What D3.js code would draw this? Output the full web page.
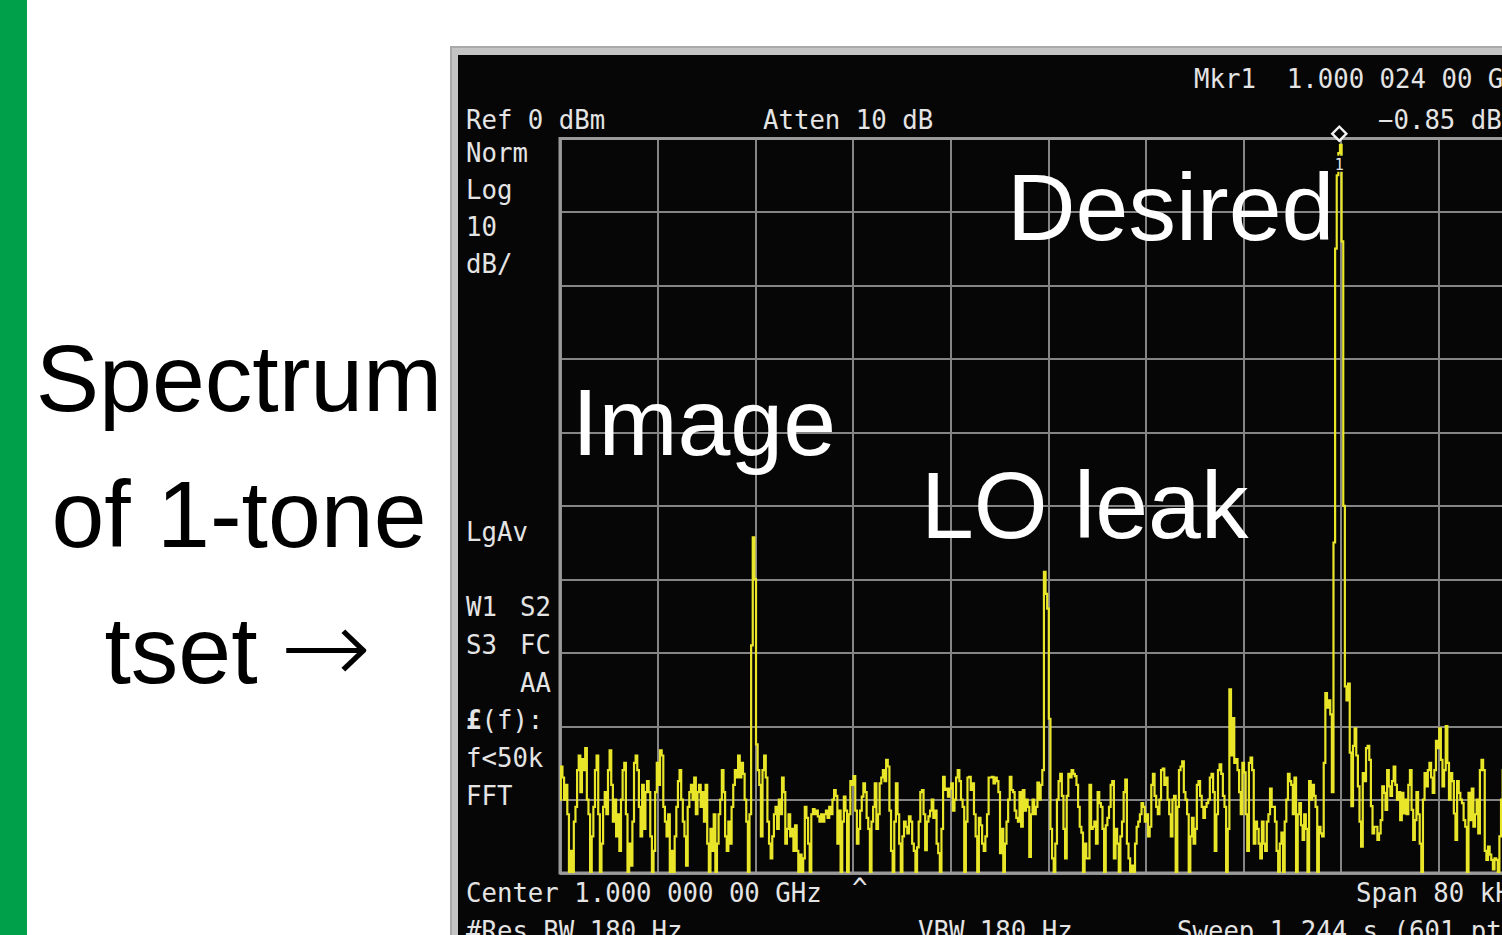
<!DOCTYPE html>
<html>
<head>
<meta charset="utf-8">
<script src="https://cdn.jsdelivr.net/npm/d3@7"></script>
<style>
  html, body { margin: 0; padding: 0; background: #ffffff; overflow: hidden; }
  svg { display: block; }
</style>
</head>
<body>
<svg id="chart" width="1502" height="935"></svg>
<script>
// ---- Analyzer settings ----
const centerGHz = "1.000 000 00";
const spanKHz = 80;
const refLevelDbm = 0;
const dbPerDiv = 10;
const numDivs = 10;
const attenDb = 10;
const rbwHz = 180;
const vbwHz = 180;
const sweepSec = 1.244;

// ---- Trace: 601 swept points, dBm ----
const traceDbm = [
  -90, -85.5, -87, -90, -88, -92, -100, -97, -100, -93,
  -91, -86, -84, -89, -84.5, -86, -83, -90, -92, -100,
  -95, -91, -86, -84, -92, -100, -96, -91, -89, -92,
  -86, -83.3, -88, -93, -90, -95, -92, -97, -90, -86,
  -85, -92, -100, -96, -99, -93, -85, -84, -86, -91,
  -95, -88, -94, -89, -87.5, -89, -95, -100, -97, -89,
  -85, -88, -83.3, -84, -91, -93, -95, -92, -100, -97,
  -100, -95, -91, -87.5, -86, -90, -93, -95, -99, -91,
  -89, -88, -90, -87, -92, -89, -88, -91, -89, -93,
  -88, -96, -100, -94, -97, -92, -100, -96, -92, -90,
  -86, -89, -95, -97, -93, -96, -91, -88, -86, -87,
  -84, -87, -85, -86.5, -90, -93, -100, -92, -69, -54.3,
  -60, -82.5, -86, -88, -95, -86, -84, -87, -93, -96,
  -98, -95, -92, -91, -94, -90, -92, -87, -89, -96,
  -94, -92, -95, -94, -97, -93.5, -97, -100, -97.5, -100,
  -98, -91, -92.5, -96, -100, -92, -91.3, -92, -91.5, -92.3,
  -93, -92, -93, -92, -91.5, -92.5, -91, -92, -90, -88.7,
  -89.5, -96, -91.5, -100, -93, -89.6, -91.5, -100, -92, -87.5,
  -88, -86.8, -91.5, -96, -94, -91.5, -89.6, -87.8, -89, -92.5,
  -94, -100, -93, -91, -87.8, -94, -92, -87.8, -87, -86,
  -87.5, -84.6, -85.5, -91.5, -97, -100, -93, -87.8, -92, -96,
  -100, -95, -93, -93.7, -94.6, -92.3, -93, -96, -97, -100,
  -96.5, -93, -89, -88.7, -92, -96.9, -93, -92.3, -91.5, -90,
  -92.5, -91.5, -96, -97.3, -100, -94, -86.9, -88.7, -88.5, -89.6,
  -88.5, -87.8, -91.5, -90, -87, -86, -87.5, -90, -91, -100,
  -93, -87, -86.9, -88.7, -87.8, -92, -95, -100, -92.5, -93.5,
  -96, -97, -95, -92, -87, -87, -86.9, -87.8, -87, -87.5,
  -89, -97.3, -94, -100, -96, -93, -90, -86.9, -88.7, -89,
  -91.5, -92.5, -93, -89, -93.7, -88.7, -91.5, -90, -91, -97.8,
  -92, -90, -92, -91, -87.7, -90, -88, -86, -59, -62,
  -64, -79, -94, -98, -100, -96, -90, -87.5, -86.5, -89.5,
  -94, -98, -89.5, -86.5, -87, -86, -86.5, -86.8, -88, -91,
  -93.7, -94.5, -100, -96, -98, -98, -88, -94, -93.7, -93,
  -96, -89, -90.5, -91, -94, -100, -93.5, -92.5, -91, -88,
  -87.5, -98, -94, -96, -100, -95, -93, -89, -87.3, -96,
  -98, -100, -99, -100, -96, -93.7, -93, -92, -90.5, -91,
  -93, -92, -95, -93.7, -88, -86.5, -89.5, -91, -92, -90,
  -86, -85.8, -88, -87, -90, -92, -95, -90, -89.5, -100,
  -91, -86, -85.5, -84.8, -89, -90, -92, -100, -95, -92.5,
  -96, -94, -88, -87.5, -89.5, -91, -92.5, -91, -90.5, -90,
  -87, -86.5, -89, -97, -92, -86, -85.2, -86.5, -89.5, -91,
  -100, -94, -75, -84, -78.9, -85, -84.5, -86, -89, -92,
  -85, -86.3, -92, -97, -85, -84.3, -86, -96, -93, -94,
  -96, -98, -93, -96, -97, -93, -92, -88.5, -91, -91,
  -93, -97, -100, -96, -94.5, -100, -93, -90, -86.5, -87.5,
  -88, -92, -87, -100, -92, -90.5, -93.5, -95.5, -92, -94,
  -100, -87.5, -90, -88, -89.5, -91, -100, -93.7, -94.6, -95,
  -85, -75.5, -77.5, -76.5, -78.4, -89, -55, -15, -5, -2,
  -0.85, -14, -50, -74.6, -76.5, -74.2, -83.6, -90.9, -82.7, -80.3,
  -84, -88.2, -93, -96.4, -86.4, -87.5, -83, -82.7, -84.6, -90.9,
  -94.6, -93.7, -93.7, -95.5, -94.6, -92.8, -88.2, -89.1, -91.4, -86,
  -88.2, -89.5, -87.5, -85.5, -88, -90, -89, -92.8, -89.1, -91.9,
  -90, -92, -88, -86, -91.4, -95.5, -92.8, -89, -92, -96,
  -100, -90, -86.4, -88.2, -86, -85, -87, -89.1, -86, -82,
  -83, -80.3, -84.6, -88.2, -86, -80, -85, -90, -86.4, -87.5,
  -91.9, -95.5, -87.5, -89.1, -90, -90.5, -92.8, -93.7, -100, -89.1,
  -92.8, -88.5, -93.7, -92, -90, -94.6, -86, -84.6, -86, -97,
  -98.2, -96.4, -97.5, -98.2, -99.5, -98, -98.2, -100, -95, -90,
  -86, -88, -91, -94, -89, -87, -92, -96, -90, -88,
  -93, -89, -87, -91, -95, -100, -92, -88, -90, -93, -89
];

// Marker 1 sits on the desired tone
const markerIndex = 480;
const markerFreq = "1.000 024 00";

// Annotation text
const signalNames = ["Image", "LO leak", "Desired"];
const captionLines = ["Spectrum", "of 1-tone", "tset"];
const captionArrow = "\u2192";
const sideNotes = ["Norm", "Log", "10", "dB/", "LgAv", "W1", "S3", "\u00a3(f):", "f<50k", "FFT"];
const sideNotes2 = ["S2", "FC", "AA"];

// ---- Layout ----
const W = 1502, H = 935;
const plot = { left: 560, right: 1536, top: 138.5, bottom: 873 };
const monoFont = "'DejaVu Sans Mono', 'Liberation Mono', monospace";
const sansFont = "'Liberation Sans', Arial, Helvetica, sans-serif";
const textGray = "#e4e4e4";
const traceColor = "#e9e629";

const svg = d3.select("#chart");

// Page: green side bar and caption
svg.append("rect").attr("x", 0).attr("y", 0).attr("width", W).attr("height", H).attr("fill", "#ffffff");
svg.append("rect").attr("x", 0).attr("y", 0).attr("width", 27).attr("height", H).attr("fill", "#00a04a");

const captionY = [411, 547, 683];
const captionX = [239, 239, 181];
svg.append("g").selectAll("text").data(captionLines).join("text")
  .attr("x", (d, i) => captionX[i]).attr("y", (d, i) => captionY[i])
  .attr("text-anchor", "middle")
  .attr("font-family", sansFont).attr("font-size", 95)
  .attr("fill", "#000000")
  .text(d => d);
// long thin arrow after "tset"
svg.append("text")
  .attr("x", 280).attr("y", 683)
  .attr("font-family", "'DejaVu Sans', sans-serif").attr("font-weight", 200)
  .attr("font-size", 104)
  .attr("fill", "#000000")
  .attr("transform", "translate(280,683) scale(1.05,1) translate(-280,-683)")
  .text(captionArrow);

// Analyzer screen
svg.append("rect").attr("x", 450).attr("y", 46).attr("width", 1100).attr("height", 950).attr("fill", "#a9a9a9");
svg.append("rect").attr("x", 452).attr("y", 48).attr("width", 1100).attr("height", 950).attr("fill", "#c4c4c4");
svg.append("rect").attr("x", 458).attr("y", 55).attr("width", 1100).attr("height", 950).attr("fill", "#060606");

// Scales
const halfSpan = spanKHz / 2;
const x = d3.scaleLinear().domain([-halfSpan, halfSpan]).range([plot.left, plot.right]);
const y = d3.scaleLinear().domain([refLevelDbm - dbPerDiv * numDivs, refLevelDbm]).range([plot.bottom, plot.top]);
const freqAt = i => -halfSpan + i * spanKHz / (traceDbm.length - 1);

// Graticule
const xTicks = d3.range(numDivs + 1).map(k => -halfSpan + k * spanKHz / numDivs);
const yTicks = d3.range(numDivs + 1).map(k => refLevelDbm - k * dbPerDiv);

const gx = svg.append("g")
  .attr("transform", `translate(0,${plot.bottom})`)
  .call(d3.axisBottom(x).tickValues(xTicks).tickSize(-(plot.bottom - plot.top)).tickFormat(""));
const gy = svg.append("g")
  .attr("transform", `translate(${plot.left},0)`)
  .call(d3.axisLeft(y).tickValues(yTicks).tickSize(-(plot.right - plot.left)).tickFormat(""));
[gx, gy].forEach(g => {
  g.select(".domain").remove();
  g.selectAll(".tick line").attr("stroke", "#858585").attr("stroke-width", 2).attr("shape-rendering", "crispEdges");
});
// brighter frame on the graticule edges
svg.append("rect")
  .attr("x", plot.left).attr("y", plot.top)
  .attr("width", plot.right - plot.left).attr("height", plot.bottom - plot.top)
  .attr("fill", "none").attr("stroke", "#9a9a9a").attr("stroke-width", 3);

// Trace (sample-and-hold display, so each bucket is a short flat step)
svg.append("clipPath").attr("id", "plotClip").append("rect")
  .attr("x", plot.left).attr("y", plot.top - 12)
  .attr("width", plot.right - plot.left).attr("height", plot.bottom - plot.top + 12);

const line = d3.line()
  .x((d, i) => x(freqAt(i)))
  .y(d => y(d))
  .curve(d3.curveStep);

svg.append("path")
  .datum(traceDbm)
  .attr("clip-path", "url(#plotClip)")
  .attr("fill", "none")
  .attr("stroke", traceColor)
  .attr("stroke-width", 2.2)
  .attr("stroke-linejoin", "miter")
  .attr("d", line);

// Marker 1
const mx = x(freqAt(markerIndex));
const my = y(traceDbm[markerIndex]);
svg.append("path")
  .attr("d", d3.symbol(d3.symbolSquare, 100)())
  .attr("transform", `translate(${mx - 1.5},${my - 11}) rotate(45)`)
  .attr("fill", "#060606").attr("stroke", "#f2f2f2").attr("stroke-width", 2.4);
svg.append("rect").attr("x", mx - 8).attr("y", my + 11).attr("width", 13).attr("height", 16).attr("fill", "#060606");
svg.append("text")
  .attr("x", mx - 1.5).attr("y", my + 25)
  .attr("text-anchor", "middle")
  .attr("font-family", monoFont).attr("font-size", 15)
  .attr("fill", textGray).text("1");

// Screen annotations (instrument font)
function monoText(str, tx, ty) {
  return svg.append("text")
    .attr("x", tx).attr("y", ty)
    .attr("font-family", monoFont).attr("font-size", 25.7)
    .attr("fill", textGray)
    .attr("xml:space", "preserve")
    .style("white-space", "pre")
    .text(str);
}

const markerValue = traceDbm[markerIndex];
const markerText = (markerValue < 0 ? "\u2212" : "") + Math.abs(markerValue).toFixed(2) + " dBm";

monoText(`Mkr1  ${markerFreq} GHz`, 1194, 88);
monoText(`Ref ${refLevelDbm} dBm`, 466, 129);
monoText(`Atten ${attenDb} dB`, 763, 129);
monoText(markerText, 1378, 129);

const sideY = [162, 199, 236, 273, 541, 616, 654, 729, 767, 805];
sideNotes.forEach((s, i) => {
  if (s.startsWith("\u00a3")) {
    const t = monoText("", 466, sideY[i]);
    t.append("tspan").attr("font-weight", "bold").text(s[0]);
    t.append("tspan").text(s.slice(1));
  } else {
    monoText(s, 466, sideY[i]);
  }
});
const side2Y = [616, 654, 692];
sideNotes2.forEach((s, i) => monoText(s, 520, side2Y[i]));

monoText(`Center ${centerGHz} GHz`, 466, 902);
monoText("^", 852, 897);
monoText(`Span ${spanKHz} kHz`, 1356, 902);
monoText(`#Res BW ${rbwHz} Hz`, 466, 940);
monoText(`VBW ${vbwHz} Hz`, 918, 940);
monoText(`Sweep ${sweepSec} s (${traceDbm.length} pts)`, 1177, 940);

// Signal labels
const labelPos = [[572, 455], [921, 538], [1007, 240]];
svg.append("g").selectAll("text").data(signalNames).join("text")
  .attr("x", (d, i) => labelPos[i][0]).attr("y", (d, i) => labelPos[i][1])
  .attr("font-family", sansFont).attr("font-size", 95)
  .attr("fill", "#ffffff")
  .text(d => d);
</script>
</body>
</html>
